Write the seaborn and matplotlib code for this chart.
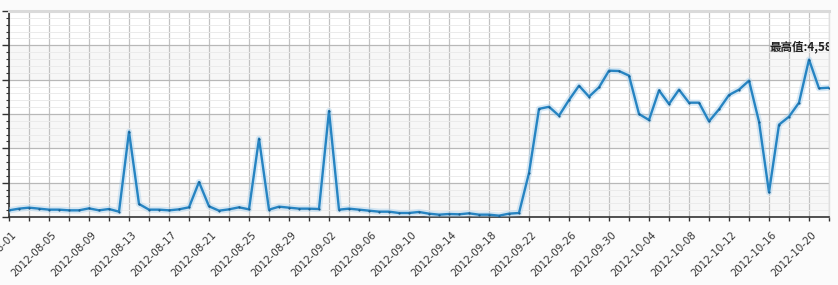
import numpy as np
import pandas as pd
import matplotlib
matplotlib.use("Agg")
import matplotlib.pyplot as plt
import matplotlib.transforms as mtransforms
from matplotlib.ticker import MultipleLocator, NullFormatter
import seaborn as sns

# ---- data ----
start_date = "2012-08-01"
end_date = "2012-10-22"
values = [
    194, 243, 272, 243, 214, 214, 194, 194, 252, 194,
    233, 155, 2485, 379, 214, 214, 194, 223, 282, 1019,
    311, 184, 223, 282, 223, 2282, 214, 301, 272, 243,
    243, 233, 3087, 214, 243, 214, 184, 155, 155, 117,
    117, 146, 97, 68, 87, 78, 107, 68, 68, 39,
    97, 117, 1282, 3150, 3210, 2951, 3408, 3825, 3505, 3777,
    4262, 4252, 4117, 3000, 2825, 3689, 3291, 3709, 3330, 3330,
    2786, 3136, 3553, 3709, 3971, 2777, 718, 2689, 2922, 3330,
    4585, 3748, 3767,
]
peak_label = "最高值:4,585"
y_max = 6000
y_major = 1000
y_minor = 200

dates = pd.date_range(start_date, end_date, freq="D")
df = pd.DataFrame({"date": dates, "value": values})

sns.set_theme(style="white")
plt.rcParams["font.family"] = ["DejaVu Sans"]

W, H = 838, 285
fig = plt.figure(figsize=(W / 100, H / 100), dpi=100)
fig.patch.set_facecolor("#fbfbfb")

ax = fig.add_axes([9 / W, 1 - 217 / H, (829 - 9) / W, (217 - 11) / H])
ax.set_facecolor("white")

# alternating bands
for lo in range(0, y_max, 2 * y_major):
    ax.axhspan(lo, lo + y_major, color="#f7f7f7", zorder=0, lw=0)

# glow + line
sns.lineplot(data=df, x="date", y="value", ax=ax, color="#a8d0ec",
             lw=4.5, alpha=0.45, zorder=3)
sns.lineplot(data=df, x="date", y="value", ax=ax, color="#2684c2",
             lw=1.7, zorder=4, marker="o", markersize=1.6,
             markerfacecolor="#1c5f8e", markeredgewidth=0)

ax.set_xlim(dates[0], dates[-1])
ax.set_ylim(0, y_max)
ax.set_xlabel("")
ax.set_ylabel("")

# y axis
ax.yaxis.set_major_locator(MultipleLocator(y_major))
ax.yaxis.set_minor_locator(MultipleLocator(y_minor))
ax.yaxis.set_major_formatter(NullFormatter())
ax.tick_params(axis="y", which="major", left=True, length=5, width=1, color="#333333")
ax.tick_params(axis="y", which="minor", left=True, length=2.5, width=0.8, color="#333333")

# x axis
tick_dates = dates[::2]
ax.set_xticks(tick_dates)
ax.set_xticklabels([d.strftime("%Y-%m-%d") if i % 2 == 0 else "" for i, d in enumerate(tick_dates)],
                   rotation=45, ha="right", va="top", rotation_mode="anchor", fontsize=7.4,
                   color="#333333")
ax.tick_params(axis="x", which="major", bottom=True, length=3, width=1, color="#333333", pad=6)
shift = mtransforms.ScaledTranslation(2.5 / 100, 0, fig.dpi_scale_trans)
for lab in ax.get_xticklabels():
    lab.set_transform(lab.get_transform() + shift)

# grids
ax.grid(axis="x", which="major", color="#c2c2c2", lw=0.9, zorder=1)
ax.grid(axis="y", which="major", color="#b8b8b8", lw=0.9, zorder=1)
ax.grid(axis="y", which="minor", color="#ebebeb", lw=0.7, zorder=1)
ax.set_axisbelow(True)

for s in ["left", "bottom"]:
    ax.spines[s].set_color("#333333")
    ax.spines[s].set_linewidth(1.2)
ax.spines["top"].set_color("#dadada")
ax.spines["top"].set_linewidth(2.2)
ax.spines["right"].set_color("#e0e0e0")
ax.spines["right"].set_linewidth(1)

# peak annotation (clipped by the plot edge, as in the original)
pk = int(np.argmax(values))
ax.annotate(peak_label, xy=(dates[pk], values[pk]), xytext=(-28.5, 9.5),
            textcoords="offset points", ha="left", va="center",
            fontsize=8.3, fontweight="bold", color="#222222",
            family=["Noto Sans CJK SC", "DejaVu Sans"], annotation_clip=False,
            clip_on=True, zorder=6)

fig.savefig("out.png", dpi=100, facecolor=fig.get_facecolor())
